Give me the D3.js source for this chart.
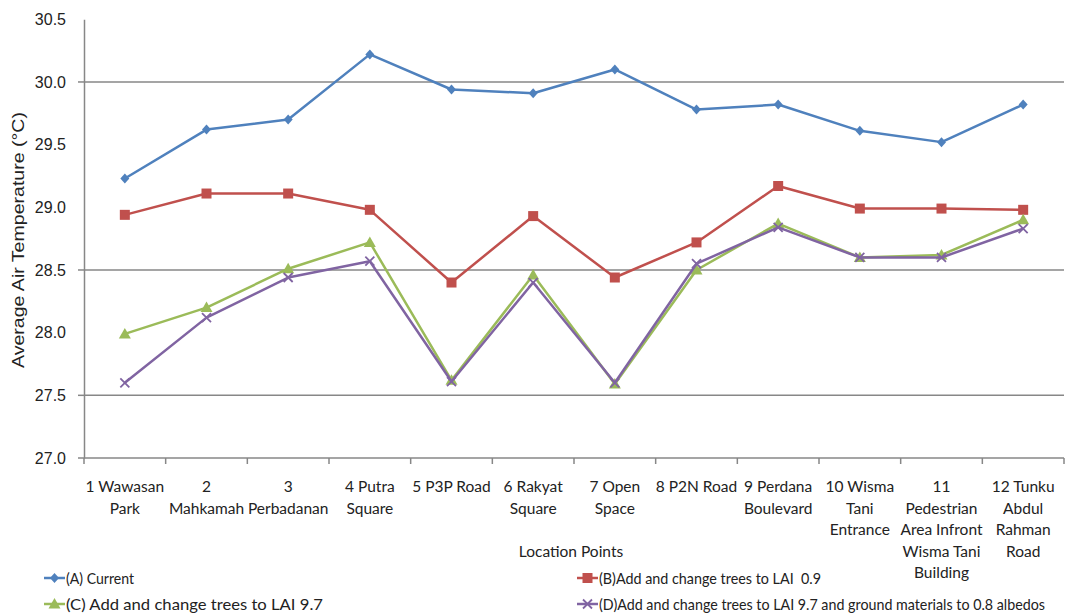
<!DOCTYPE html>
<html><head><meta charset="utf-8">
<script src="https://cdn.jsdelivr.net/npm/d3@7"></script>
<style>body{margin:0;background:#fff}svg{display:block}text{white-space:pre}</style>
</head><body>
<svg id="c" width="1067" height="616"></svg>
<script>
const categories = [
  ["1 Wawasan","Park"],["2","Mahkamah"],["3","Perbadanan"],["4 Putra","Square"],
  ["5 P3P Road"],["6 Rakyat","Square"],["7 Open","Space"],["8 P2N Road"],
  ["9 Perdana","Boulevard"],["10 Wisma","Tani","Entrance"],
  ["11","Pedestrian","Area Infront","Wisma Tani","Building"],["12 Tunku","Abdul","Rahman","Road"]
];
const seriesNames = ["(A) Current","(B)Add and change trees to LAI  0.9","(C) Add and change trees to LAI 9.7","(D)Add and change trees to LAI 9.7 and ground materials to 0.8 albedos"];
const valuesA = [29.23,29.62,29.70,30.22,29.94,29.91,30.10,29.78,29.82,29.61,29.52,29.82];
const valuesB = [28.94,29.11,29.11,28.98,28.40,28.93,28.44,28.72,29.17,28.99,28.99,28.98];
const valuesC = [27.99,28.20,28.51,28.72,27.62,28.46,27.59,28.50,28.87,28.60,28.62,28.90];
const valuesD = [27.60,28.12,28.44,28.57,27.61,28.40,27.60,28.55,28.84,28.60,28.60,28.83];
const yTickLabels = ["27.0","27.5","28.0","28.5","29.0","29.5","30.0","30.5"];
const gridValues = [27.5,28.5,30.0];
const colors = ["#4F81BD","#C0504D","#9BBB59","#8064A2"];
const markers = ["diamond","square","triangle","x"];
const legendWidths = [68,222,257,446];

const svg = d3.select("#c");
const L=84, R=1064, T=19.3, B=458;
const x = d3.scaleBand().domain(d3.range(12)).range([L,R]);
const y = d3.scaleLinear().domain([27,30.5]).range([B,T]);

svg.append("g").selectAll("line").data(gridValues).join("line")
  .attr("x1",L).attr("x2",R).attr("y1",d=>y(d)).attr("y2",d=>y(d))
  .attr("stroke","#878787").attr("stroke-width",1.5);

const yAxis = d3.axisLeft(y).tickValues(yTickLabels.map(Number)).tickFormat(d3.format(".1f")).tickSize(0).tickPadding(18);
const gy = svg.append("g").attr("transform",`translate(${L},0)`).call(yAxis);
gy.select(".domain").attr("stroke","#878787").attr("stroke-width",1.5);
gy.selectAll("text").attr("font-family","Liberation Sans, Arial, sans-serif").attr("font-size",16).attr("fill","#222");
svg.append("g").selectAll("line").data(gridValues.concat([27])).join("line")
  .attr("x1",L-6).attr("x2",L).attr("y1",d=>y(d)).attr("y2",d=>y(d))
  .attr("stroke","#878787").attr("stroke-width",1.5);

svg.append("line").attr("x1",L).attr("x2",R).attr("y1",B).attr("y2",B).attr("stroke","#878787").attr("stroke-width",1.5);
svg.append("g").selectAll("line").data(d3.range(13)).join("line")
  .attr("x1",d=>L+d*x.bandwidth()).attr("x2",d=>L+d*x.bandwidth())
  .attr("y1",B).attr("y2",B+6).attr("stroke","#878787").attr("stroke-width",1.5);

const narrow = "Lato, 'Open Sans', sans-serif";
const xl = svg.append("g").selectAll("text").data(categories).join("text")
  .attr("x",(d,i)=>x(i)+x.bandwidth()/2).attr("y",B+34)
  .attr("text-anchor","middle").attr("font-family",narrow).attr("font-size",15.5).attr("fill","#222");
xl.each(function(d){
  const t=d3.select(this);
  d.forEach((s,k)=>t.append("tspan").attr("x",t.attr("x")).attr("dy",k?21.5:0).text(s));
});

svg.append("text").attr("x",571).attr("y",557).attr("text-anchor","middle")
  .attr("font-family",narrow).attr("font-size",15.5).attr("fill","#222").text("Location Points");
svg.append("text").attr("transform",`translate(24,240) rotate(-90)`).attr("text-anchor","middle")
  .attr("font-family","Liberation Sans, Arial, sans-serif").attr("font-size",17)
  .attr("textLength",256).attr("lengthAdjust","spacingAndGlyphs")
  .attr("fill","#222").text("Average Air Temperature (°C)");

function drawMarker(g,type,cx,cy,color){
  if(type==="diamond"){
    g.append("path").attr("d",`M${cx},${cy-5}L${cx+4.5},${cy}L${cx},${cy+5}L${cx-4.5},${cy}Z`).attr("fill",color);
  } else if(type==="square"){
    g.append("rect").attr("x",cx-5).attr("y",cy-5).attr("width",10).attr("height",10).attr("fill",color);
  } else if(type==="triangle"){
    g.append("path").attr("d",`M${cx},${cy-6}L${cx+6},${cy+4.5}L${cx-6},${cy+4.5}Z`).attr("fill",color);
  } else {
    g.append("path").attr("d",`M${cx-4.5},${cy-4.5}L${cx+4.5},${cy+4.5}M${cx+4.5},${cy-4.5}L${cx-4.5},${cy+4.5}`)
      .attr("stroke",color).attr("stroke-width",1.8).attr("fill","none");
  }
}

const allSeries = [valuesA,valuesB,valuesC,valuesD];
const line = d3.line().x((d,i)=>x(i)+x.bandwidth()/2).y(d=>y(d));
allSeries.forEach((vals,si)=>{
  const g = svg.append("g");
  g.append("path").datum(vals).attr("d",line).attr("fill","none")
    .attr("stroke",colors[si]).attr("stroke-width",2.5).attr("stroke-linejoin","round");
  vals.forEach((v,i)=>drawMarker(g,markers[si],x(i)+x.bandwidth()/2,y(v),colors[si]));
});

const legPos = [[44,578],[577,578],[44,604],[577,604]];
seriesNames.forEach((n,si)=>{
  const [lx,ly]=legPos[si];
  const g=svg.append("g");
  g.append("line").attr("x1",lx).attr("x2",lx+21).attr("y1",ly).attr("y2",ly).attr("stroke",colors[si]).attr("stroke-width",2.5);
  drawMarker(g,markers[si],lx+10.5,ly,colors[si]);
  g.append("text").attr("x",lx+22).attr("y",ly+5.5).attr("font-family",narrow).attr("font-size",15)
    .attr("textLength",legendWidths[si]).attr("lengthAdjust","spacingAndGlyphs")
    .attr("fill","#222").text(n);
});
</script>
</body></html>
